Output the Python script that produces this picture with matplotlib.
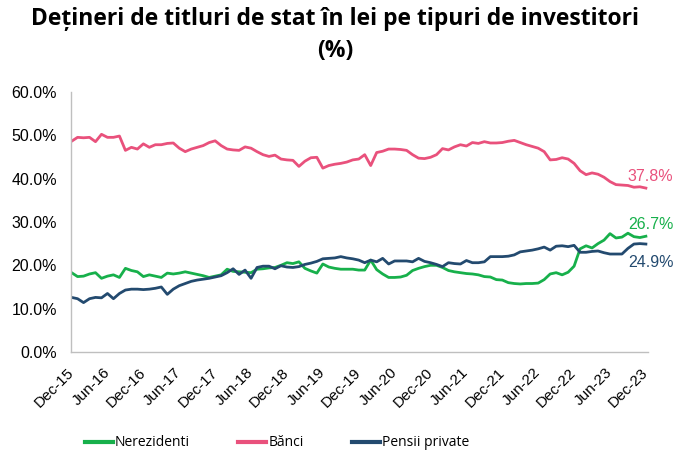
import matplotlib
matplotlib.use("Agg")
import matplotlib.pyplot as plt
import numpy as np

plt.rcParams['font.family'] = ['Liberation Sans', 'DejaVu Sans']

tick_labels = ["Dec-15", "Jun-16", "Dec-16", "Jun-17", "Dec-17", "Jun-18", "Dec-18",
               "Jun-19", "Dec-19", "Jun-20", "Dec-20", "Jun-21", "Dec-21", "Jun-22",
               "Dec-22", "Jun-23", "Dec-23"]

banci = [48.6, 49.5, 49.4, 49.5, 48.5, 50.2, 49.5, 49.5, 49.8, 46.5,
         47.2, 46.8, 48.0, 47.2, 47.8, 47.8, 48.1, 48.2, 47.0, 46.2,
         46.8, 47.2, 47.6, 48.3, 48.7, 47.6, 46.8, 46.6, 46.5, 47.3,
         47.0, 46.2, 45.5, 45.1, 45.4, 44.5, 44.3, 44.2, 42.8, 44.0,
         44.8, 44.9, 42.4, 43.0, 43.3, 43.5, 43.8, 44.3, 44.5, 45.5,
         43.0, 46.0, 46.3, 46.8, 46.8, 46.7, 46.5, 45.5, 44.7, 44.6,
         44.9, 45.5, 46.9, 46.6, 47.3, 47.8, 47.5, 48.3, 48.1, 48.5,
         48.2, 48.2, 48.3, 48.6, 48.8, 48.3, 47.8, 47.4, 47.0, 46.2,
         44.3, 44.4, 44.8, 44.5, 43.5, 41.8, 40.9, 41.3, 41.0, 40.3,
         39.3, 38.6, 38.5, 38.4, 38.0, 38.1, 37.8]

nerezidenti = [18.3, 17.4, 17.5, 18.0, 18.3, 17.0, 17.5, 17.8, 17.2, 19.3,
               18.8, 18.5, 17.4, 17.8, 17.5, 17.2, 18.2, 18.0, 18.2, 18.5,
               18.2, 17.9, 17.6, 17.2, 17.5, 17.8, 19.1, 18.6, 18.5, 18.4,
               18.3, 19.1, 19.2, 19.4, 19.5, 20.0, 20.6, 20.4, 20.8, 19.3,
               18.7, 18.2, 20.3, 19.6, 19.3, 19.1, 19.1, 19.1, 18.9, 18.9,
               21.2, 19.0, 18.0, 17.2, 17.2, 17.3, 17.7, 18.8, 19.3, 19.7,
               20.0, 20.0, 19.5, 18.8, 18.5, 18.3, 18.1, 18.0, 17.8, 17.4,
               17.3, 16.7, 16.6, 16.0, 15.8, 15.7, 15.8, 15.8, 15.9, 16.7,
               18.0, 18.3, 17.8, 18.4, 19.8, 23.8, 24.5, 24.0, 25.0, 25.8,
               27.3, 26.3, 26.5, 27.4, 26.6, 26.4, 26.7]

pensii = [12.6, 12.3, 11.4, 12.3, 12.6, 12.5, 13.5, 12.3, 13.5, 14.3,
          14.5, 14.5, 14.4, 14.5, 14.7, 15.0, 13.3, 14.5, 15.3, 15.8,
          16.3, 16.6, 16.8, 17.0, 17.3, 17.6, 18.3, 19.2, 17.9, 18.9,
          17.0, 19.5, 19.8, 19.8, 19.2, 19.9, 19.6, 19.5, 19.7, 20.2,
          20.5, 20.9, 21.5, 21.6, 21.7, 22.0, 21.7, 21.5, 21.2, 20.6,
          21.2, 20.8, 21.6, 20.3, 21.0, 21.0, 21.0, 20.8, 21.6, 20.9,
          20.6, 20.2, 19.7, 20.6, 20.4, 20.3, 21.1, 20.6, 20.6, 20.8,
          22.0, 22.0, 22.0, 22.1, 22.4, 23.1, 23.3, 23.5, 23.8, 24.2,
          23.5, 24.4, 24.5, 24.3, 24.6, 23.0, 23.0, 23.2, 23.3, 22.9,
          22.6, 22.6, 22.6, 23.9, 24.9, 25.0, 24.9]

c_green = "#17b04b"
c_pink = "#e9517c"
c_navy = "#234a6f"

fig = plt.figure(figsize=(6.76, 4.59), dpi=100)
ax = fig.add_axes([0.105, 0.233, 0.854, 0.567])

x = np.arange(len(banci))
ax.plot(x, nerezidenti, color=c_green, lw=2.0, label="Nerezidenti", solid_joinstyle='round')
ax.plot(x, banci, color=c_pink, lw=2.0, label="Bănci", solid_joinstyle='round')
ax.plot(x, pensii, color=c_navy, lw=2.0, label="Pensii private", solid_joinstyle='round')

ax.set_xlim(-0.1, 96.4)
ax.set_ylim(0, 60)
ax.set_yticks(np.arange(0, 61, 10))
ax.set_yticklabels([f"{v:.1f}%" for v in np.arange(0, 61, 10)], fontsize=11.5)
ax.set_xticks(np.arange(0, 97, 6))
ax.set_xticklabels(tick_labels, fontsize=11, rotation=45, ha='right', va='center',
                   rotation_mode='anchor')
ax.tick_params(axis='both', length=0)
ax.tick_params(axis='y', pad=10)
ax.tick_params(axis='x', pad=13)
for s in ['top', 'right']:
    ax.spines[s].set_visible(False)
for s in ['left', 'bottom']:
    ax.spines[s].set_color('#bfbfbf')
    ax.spines[s].set_linewidth(1.0)

last = len(banci) - 1
ax.annotate(f"{banci[-1]:.1f}%", (last, banci[-1]), xytext=(-13, 8), textcoords='offset points',
            color=c_pink, fontsize=11.5, ha='left', va='center')
ax.annotate(f"{nerezidenti[-1]:.1f}%", (last, nerezidenti[-1]), xytext=(-13, 8.5), textcoords='offset points',
            color=c_green, fontsize=11.5, ha='left', va='center')
ax.annotate(f"{pensii[-1]:.1f}%", (last, pensii[-1]), xytext=(-13, -13), textcoords='offset points',
            color=c_navy, fontsize=11.5, ha='left', va='center')

fig.text(0.496, 0.958, "Dețineri de titluri de stat în lei pe tipuri de investitori",
         fontsize=16.5, fontweight='bold', family=['Open Sans', 'DejaVu Sans'],
         ha='center', va='center')
fig.text(0.496, 0.889, "(%)", fontsize=16.5, fontweight='bold',
         family=['Open Sans', 'DejaVu Sans'], ha='center', va='center')

leg = fig.legend(loc='center', bbox_to_anchor=(0.41, 0.035), ncol=3, frameon=False,
                 prop={'family': ['Open Sans', 'DejaVu Sans'], 'size': 10},
                 handlelength=2.0, handletextpad=0.15, columnspacing=3.5)
for line in leg.get_lines():
    line.set_linewidth(3.0)

fig.savefig("out.png", dpi=100)
